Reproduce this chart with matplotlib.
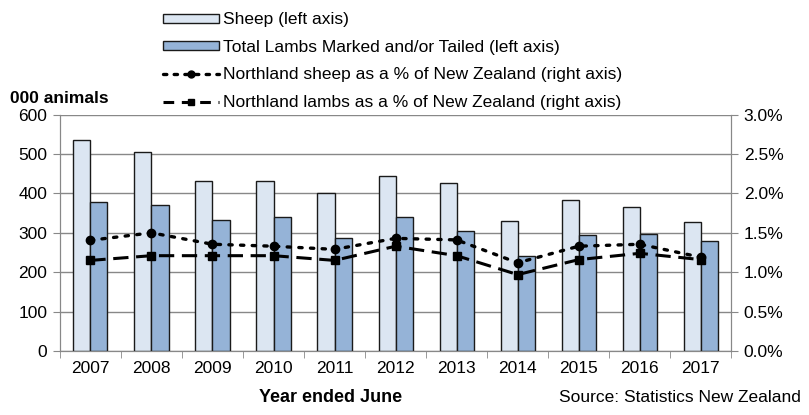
import matplotlib
matplotlib.use("Agg")
import matplotlib.pyplot as plt
import numpy as np
from matplotlib.patches import Patch
from matplotlib.lines import Line2D

years = ["2007", "2008", "2009", "2010", "2011", "2012", "2013", "2014", "2015", "2016", "2017"]
sheep = [535, 504, 431, 431, 400, 443, 426, 330, 382, 366, 327]
lambs = [377, 370, 332, 339, 286, 339, 305, 240, 294, 298, 278]
sheep_pct = [1.405, 1.50, 1.355, 1.33, 1.29, 1.43, 1.41, 1.12, 1.33, 1.355, 1.19]
lambs_pct = [1.15, 1.21, 1.21, 1.21, 1.15, 1.33, 1.21, 0.97, 1.16, 1.24, 1.16]
left_ticks = [0, 100, 200, 300, 400, 500, 600]
right_ticks = [0.0, 0.5, 1.0, 1.5, 2.0, 2.5, 3.0]

plt.rcParams['font.family'] = ['Liberation Sans', 'DejaVu Sans']
FS = 12.5
fig = plt.figure(figsize=(8.09, 4.15), dpi=100)
ax = fig.add_axes([0.074, 0.154, 0.830, 0.570])
ax2 = ax.twinx()

x = np.arange(len(years))
w = 0.28
ax.bar(x - w/2, sheep, w, color='#DCE6F2', edgecolor='#1a1a1a', linewidth=1, zorder=3)
ax.bar(x + w/2, lambs, w, color='#95B3D7', edgecolor='#1a1a1a', linewidth=1, zorder=3)

ax2.plot(x, sheep_pct, linestyle=(0, (1, 2.5)), linewidth=2.4, color='black',
         marker='o', markersize=6, dash_capstyle='round', zorder=4)
ax2.plot(x, lambs_pct, linestyle=(0, (5, 2.5)), linewidth=2.2, color='black',
         marker='s', markersize=6, zorder=4)

ax.set_ylim(0, 600)
ax2.set_ylim(0, 3.0)
ax.set_xlim(-0.5, len(years) - 0.5)
ax.set_yticks(left_ticks)
ax2.set_yticks(right_ticks)
ax2.set_yticklabels([f"{t:.1f}%" for t in right_ticks])
ax.set_xticks(x)
ax.set_xticklabels(years)
ax.set_xticks(np.arange(-0.5, len(years)), minor=True)
ax.tick_params(axis='x', which='major', length=0, pad=7, labelsize=FS)
ax.tick_params(axis='x', which='minor', length=5, color='#888888', direction='out')
ax.tick_params(axis='y', length=5, color='#888888', labelsize=FS, pad=4)
ax2.tick_params(axis='y', length=5, color='#888888', labelsize=FS, pad=4)

ax.yaxis.grid(True, color='#888888', linewidth=1, zorder=0)
ax.set_axisbelow(True)
for a in (ax, ax2):
    a.spines['top'].set_visible(False)
    for s in ('left', 'right', 'bottom'):
        a.spines[s].set_color('#888888')

fig.text(0.012, 0.762, "000 animals", fontsize=12.5, fontweight='bold', ha='left', va='center')
fig.text(0.408, 0.043, "Year ended June", fontsize=13, fontweight='bold', ha='center', va='center')
fig.text(0.990, 0.043, "Source: Statistics New Zealand", fontsize=FS, ha='right', va='center')

handles = [
    Patch(facecolor='#DCE6F2', edgecolor='#1a1a1a', linewidth=1),
    Patch(facecolor='#95B3D7', edgecolor='#1a1a1a', linewidth=1),
    Line2D([], [], linestyle=(0, (1, 2.2)), linewidth=2.4, color='black', marker='o', markersize=5, dash_capstyle='round'),
    Line2D([], [], linestyle=(0, (3.5, 2.5)), linewidth=2.2, color='black', marker='s', markersize=5),
]
labels = ["Sheep (left axis)", "Total Lambs Marked and/or Tailed (left axis)",
          "Northland sheep as a % of New Zealand (right axis)",
          "Northland lambs as a % of New Zealand (right axis)"]
fig.legend(handles, labels, loc='upper left', bbox_to_anchor=(0.202, 0.97), frameon=False,
           fontsize=FS, handlelength=3.2, handleheight=0.45, handletextpad=0.25,
           labelspacing=0.72, borderpad=0.0, borderaxespad=0.0)

fig.savefig("out.png", dpi=100)
